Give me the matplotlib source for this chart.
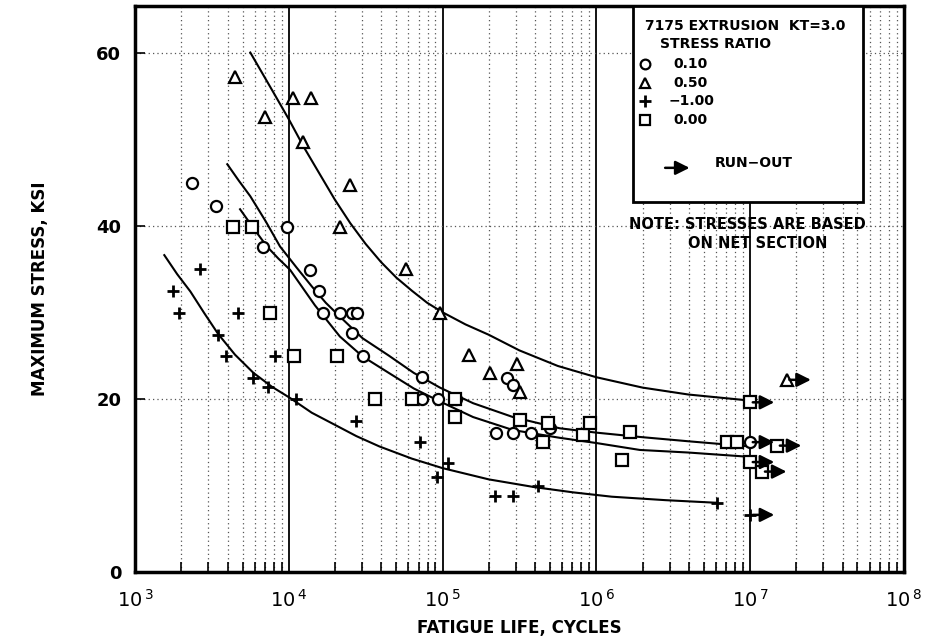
import matplotlib
matplotlib.use("Agg")
import matplotlib.pyplot as plt
from matplotlib.patches import Rectangle
from matplotlib.ticker import LogLocator, NullFormatter, FixedLocator

# ---------------------------------------------------------------------------
# test points (cycles, max stress ksi)
circle_n = [2350, 3370, 9730, 6790, 13700, 15700, 16700, 21500, 25800, 27800,
            25800, 30300, 73400, 73400, 93300, 122000, 222000, 287000, 376000,
            499000, 262000, 287000]
circle_s = [44.9, 42.3, 39.9, 37.5, 34.9, 32.5, 29.9, 29.9, 29.9, 29.9,
            27.6, 24.9, 22.5, 20.0, 20.0, 20.0, 16.1, 16.1, 16.1,
            16.6, 22.4, 21.6]

tri_n = [4470, 7000, 10600, 13900, 12400, 25000, 21500, 57800, 97000,
         149000, 203000, 305000, 318000]
tri_s = [57.2, 52.5, 54.8, 54.8, 49.7, 44.7, 39.9, 35.0, 29.9,
         25.1, 23.0, 24.0, 20.8]

plus_n = [1770, 1930, 2650, 3470, 3910, 4680, 5850, 7330, 8130, 11100,
          27400, 71300, 108000, 92000, 219000, 287000, 417000, 6080000]
plus_s = [32.5, 29.9, 35.0, 27.4, 25.0, 29.9, 22.4, 21.4, 25.0, 20.0,
          17.5, 15.0, 12.6, 11.0, 8.8, 8.8, 9.9, 8.0]

square_n = [4330, 5770, 7550, 10800, 20600, 36300, 63200, 121000, 121000,
            318000, 485000, 450000, 818000, 908000, 1650000, 1470000,
            7070000, 8200000]
square_s = [39.9, 39.9, 29.9, 25.0, 25.0, 20.0, 20.0, 20.0, 17.9,
            17.6, 17.2, 15.0, 15.8, 17.2, 16.2, 12.9,
            15.0, 15.0]

# run-outs (no failure)
circle_run_n = [1.0e7]
circle_run_s = [15.0]
tri_run_n = [1.73e7]
tri_run_s = [22.2]
square_run_n = [1.0e7, 1.5e7, 1.0e7, 1.2e7]
square_run_s = [19.6, 14.6, 12.7, 11.6]
plus_run_n = [1.0e7]
plus_run_s = [6.6]

# fitted curves, points
curve_r050_n = [5620, 6680, 7940, 10000, 12600, 15850, 19950, 25100, 31600,
                39800, 50100, 63100, 79400, 1.0e5, 1.41e5, 2.0e5, 3.16e5,
                5.62e5, 1.0e6, 2.0e6, 3.98e6, 1.0e7]
curve_r050_s = [60.0, 57.7, 55.4, 52.3, 49.0, 46.0, 43.0, 40.3, 37.9,
                35.8, 34.0, 32.5, 31.1, 30.0, 28.6, 27.4, 25.6,
                23.8, 22.5, 21.3, 20.5, 19.8]

curve_r010_n = [3980, 4730, 5620, 7080, 8770, 11200, 14100, 17400, 21500,
                30200, 44700, 65000, 96200, 1.58e5, 2.87e5, 5.79e5, 1.0e6,
                1.92e6, 3.98e6, 1.0e7]
curve_r010_s = [47.1, 45.2, 43.4, 40.5, 37.6, 35.2, 33.0, 31.1, 29.5,
                27.0, 25.0, 23.0, 21.3, 19.5, 17.9, 16.6, 16.1,
                15.6, 15.1, 14.5]

curve_r000_n = [4820, 5900, 7210, 8560, 10200, 14800, 21500, 30200, 44700,
                65000, 96200, 1.58e5, 2.87e5, 5.79e5, 1.0e6, 1.92e6,
                3.98e6, 1.0e7]
curve_r000_s = [41.9, 39.7, 37.6, 36.2, 34.9, 30.8, 27.2, 24.9, 23.0,
                21.2, 19.7, 17.9, 16.4, 15.5, 14.9, 14.1, 13.8, 13.3]

curve_rm1_n = [1550, 1880, 2290, 2820, 3470, 4470, 5890, 7760, 10200,
               14100, 19950, 27500, 38900, 63100, 1.0e5, 2.0e5, 3.98e5,
               7.08e5, 1.26e6, 2.82e6, 6.03e6]
curve_rm1_s = [36.6, 34.4, 32.4, 29.9, 27.5, 25.1, 23.0, 21.4, 20.1,
               18.4, 17.0, 15.7, 14.5, 13.1, 12.0, 10.7, 9.8,
               9.2, 8.7, 8.3, 8.0]

legend_labels = ["0.10", "0.50", "\u22121.00", "0.00"]

FONT = dict(family="DejaVu Sans", fontweight="bold", color="black")

fig = plt.figure(figsize=(9.25, 6.42), dpi=100)
ax = fig.add_axes([0.146, 0.109, 0.831, 0.882])

ax.set_xscale("log")
ax.set_xlim(1e3, 1e8)
ax.set_ylim(0, 65.4)

# grid: dotted minors, solid decade lines
ax.xaxis.set_minor_locator(LogLocator(base=10, subs=range(2, 10), numticks=20))
ax.xaxis.set_minor_formatter(NullFormatter())
ax.xaxis.set_major_locator(FixedLocator([1e3, 1e4, 1e5, 1e6, 1e7, 1e8]))
ax.set_xticklabels([r"$10^{\,3}$", r"$10^{\,4}$", r"$10^{\,5}$",
                    r"$10^{\,6}$", r"$10^{\,7}$", r"$10^{\,8}$"])
ax.grid(which="minor", axis="x", color="#555555", lw=0.9, ls=(0, (1, 2.5)))
for d in [1e4, 1e5, 1e6, 1e7]:
    ax.axvline(d, color="black", lw=1.3, zorder=1)
ax.set_yticks([0, 20, 40, 60])
for v in [20, 40, 60]:
    ax.axhline(v, color="#555555", lw=0.9, ls=(0, (1, 2.5)), zorder=1)

ax.tick_params(axis="x", which="major", direction="in", length=0, pad=12,
               labelsize=14)
ax.tick_params(axis="x", which="minor", direction="in", length=7, width=1.2)
ax.tick_params(axis="y", which="major", direction="in", length=7, width=1.2,
               pad=10, labelsize=13)
for lab in ax.get_yticklabels() + ax.get_xticklabels():
    lab.set_fontweight("bold")
for sp in ax.spines.values():
    sp.set_linewidth(2.5)

# curves
for cn, cs in [(curve_r050_n, curve_r050_s), (curve_r010_n, curve_r010_s),
               (curve_r000_n, curve_r000_s), (curve_rm1_n, curve_rm1_s)]:
    ax.plot(cn, cs, color="black", lw=1.5, zorder=3)

mk = dict(ls="none", mfc="white", mec="black", mew=1.6, zorder=4)
ax.plot(circle_n + circle_run_n, circle_s + circle_run_s, marker="o", ms=8, **mk)
ax.plot(tri_n + tri_run_n, tri_s + tri_run_s, marker="^", ms=8, **mk)
ax.plot(square_n + square_run_n, square_s + square_run_s, marker="s", ms=8, **mk)
ax.plot(plus_n + plus_run_n, plus_s + plus_run_s, marker="+", ms=9,
        ls="none", color="black", mew=2.0, zorder=4)

# run-out arrows
arrow = dict(arrowstyle="-|>", color="black", lw=1.8, mutation_scale=21)
for rn, rs in [(circle_run_n, circle_run_s), (tri_run_n, tri_run_s),
               (square_run_n, square_run_s), (plus_run_n, plus_run_s)]:
    for n, s in zip(rn, rs):
        ax.annotate("", xy=(n * 1.5, s), xytext=(n, s), arrowprops=arrow,
                    zorder=5)

# legend box
ax.add_patch(Rectangle((0.6476, 0.6537), 0.2991, 0.3463, transform=ax.transAxes,
                       facecolor="white", edgecolor="black", lw=2.0, zorder=6))
ax.text(0.663, 0.9647, "7175 EXTRUSION  KT=3.0", transform=ax.transAxes,
        fontsize=10, va="center", ha="left", zorder=7, **FONT)
ax.text(0.683, 0.9329, "STRESS RATIO", transform=ax.transAxes,
        fontsize=10, va="center", ha="left", zorder=7, **FONT)
rows = [0.8975, 0.8640, 0.8322, 0.7986]
for lab, m, y in zip(legend_labels, ["o", "^", "+", "s"], rows):
    if m == "+":
        ax.plot([0.663], [y], marker=m, ms=8, mew=2.0, color="black",
                transform=ax.transAxes, zorder=7)
    else:
        ax.plot([0.663], [y], marker=m, ms=7, mfc="white", mec="black",
                mew=1.6, transform=ax.transAxes, zorder=7)
    ax.text(0.700 if m != "+" else 0.694, y, lab, transform=ax.transAxes,
            fontsize=10, va="center", ha="left", zorder=7, **FONT)
ax.annotate("", xy=(0.725, 0.7138), xytext=(0.686, 0.7138),
            xycoords="axes fraction", arrowprops=arrow, zorder=7)
ax.text(0.754, 0.7226, "RUN\u2212OUT", transform=ax.transAxes,
        fontsize=10, va="center", ha="left", zorder=7, **FONT)

ax.text(0.797, 0.613, "NOTE: STRESSES ARE BASED", transform=ax.transAxes,
        fontsize=10.5, va="center", ha="center", zorder=7, **FONT)
ax.text(0.810, 0.5795, "ON NET SECTION", transform=ax.transAxes,
        fontsize=10.5, va="center", ha="center", zorder=7, **FONT)

ax.set_xlabel("FATIGUE LIFE, CYCLES", fontsize=12, labelpad=6, **FONT)
ax.set_ylabel("MAXIMUM STRESS, KSI", fontsize=12, labelpad=34, **FONT)

fig.savefig("out.png", dpi=100)
